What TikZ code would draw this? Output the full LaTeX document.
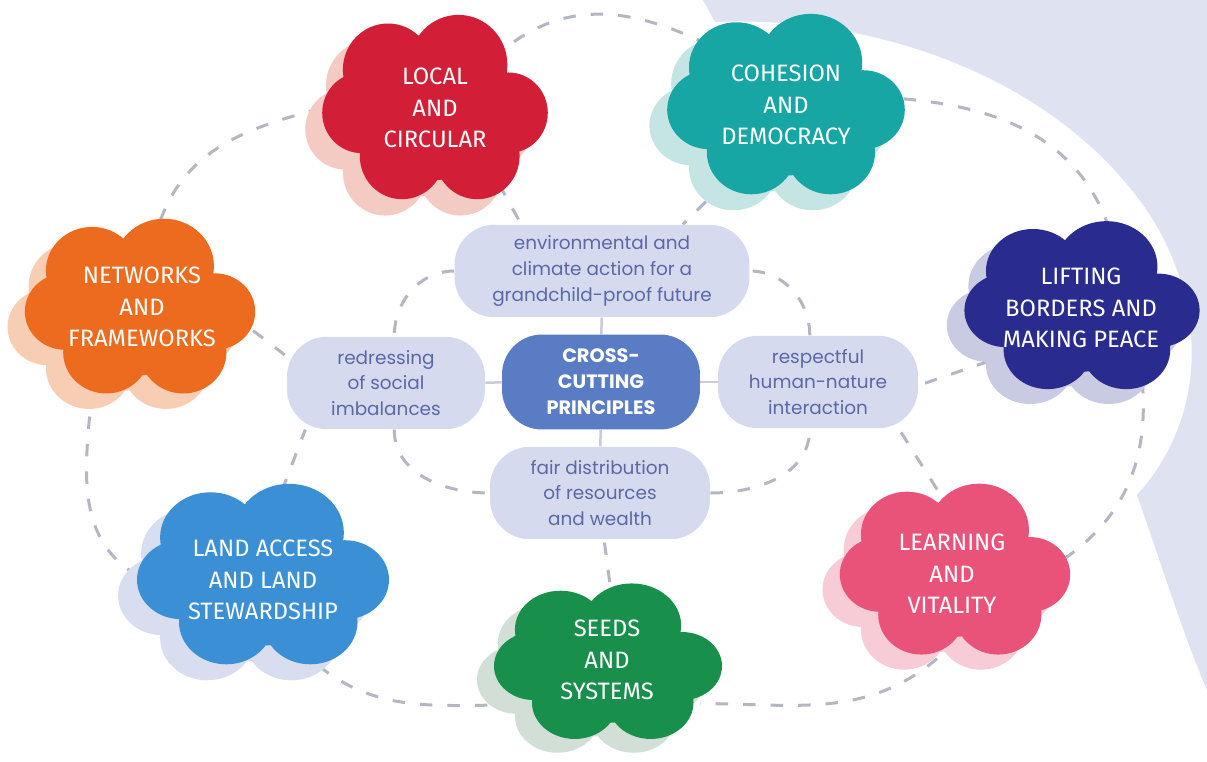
\documentclass[tikz,border=0pt]{standalone}
\usepackage{fontspec}
\usepackage{tikz}
\usetikzlibrary{shapes.geometric}
\newfontfamily\cloudfont{Fira Sans}
\newfontfamily\pillfont{Poppins}

\definecolor{skyback}{HTML}{DFE3F1}
\definecolor{linkgrey}{HTML}{B3B7C2}
\definecolor{stemgrey}{HTML}{C9CCD6}
\definecolor{pillfill}{HTML}{D5DAEE}
\definecolor{pilltext}{HTML}{5A68A8}
\definecolor{corefill}{HTML}{5A7CC4}
\definecolor{localred}{HTML}{D21E36}
\definecolor{localshade}{HTML}{F3CBC2}
\definecolor{cohteal}{HTML}{17A6A4}
\definecolor{cohshade}{HTML}{C4E5E3}
\definecolor{netorange}{HTML}{EC6B1E}
\definecolor{netshade}{HTML}{F7CDB4}
\definecolor{liftnavy}{HTML}{292C8E}
\definecolor{liftshade}{HTML}{C8CBE1}
\definecolor{landblue}{HTML}{3A8FD5}
\definecolor{landshade}{HTML}{D8DDF0}
\definecolor{seedgreen}{HTML}{188F4A}
\definecolor{seedshade}{HTML}{D2DFD6}
\definecolor{learnpink}{HTML}{E9537A}
\definecolor{learnshade}{HTML}{F7CCD6}

\pgfdeclarelayer{back}
\pgfdeclarelayer{links}
\pgfsetlayers{back,links,main}

% one puffy blob, drawn around the current origin
\def\cloudblob#1{\fill[#1] (0,5) ellipse [x radius=98, y radius=66] (0,5) circle (70) (-50,-40) circle (48) (25,-45) circle (52) (78,5) circle (42) (45,50) circle (45) (-35,50) circle (45) (-78,5) circle (42);}
% cloud with its pale copy behind it: centre, scaling, colour, shadow colour
\def\cloud(#1)[#2]#3#4{%
	\begin{scope}[shift={(#1)},#2]
		\begin{scope}[shift={(-18,17)}]\cloudblob{#4}\end{scope}
		\cloudblob{#3}
	\end{scope}}

\begin{document}
\begin{tikzpicture}[x=0.02cm, y=-0.02cm,
	cloudtext/.style={ellipse, inner sep=0pt, align=center, text=white, font=\cloudfont\fontsize{13.5}{18}\selectfont},
	principle/.style={rectangle, rounded corners=0.8cm, fill=pillfill, text=pilltext, align=center, inner sep=2pt, minimum height=1.85cm, font=\pillfont\fontsize{10.5}{14.7}\selectfont},
	core/.style={principle, fill=corefill, text=white, font=\pillfont\bfseries\fontsize{11}{14.7}\selectfont},
	dashlink/.style={draw=linkgrey, line width=0.06cm, dash pattern=on 0.25cm off 0.3cm},
	solidlink/.style={draw=stemgrey, line width=0.05cm}]
			%%%%% START %%%%%
			
			\useasboundingbox (0,0) rectangle (1207,761);
			\begin{pgfonlayer}{back}
				\fill[white] (0,0) rectangle (1207,761);
				\fill[skyback] (703,0) -- (715,22) .. controls (880,15) and (1060,80) .. (1150,215) .. controls (1210,310) and (1205,420) .. (1137,495) .. controls (1160,560) and (1185,640) .. (1207,690) -- (1207,0) -- cycle;
			\end{pgfonlayer}
			
			\cloud(435,108)[xscale=0.94, yscale=0.96]{localred}{localshade}
			\cloud(786,105)[xscale=0.99, yscale=0.94]{cohteal}{cohshade}
			\cloud(140,307)[xscale=0.96, yscale=0.91]{netorange}{netshade}
			\cloud(1082,306)[xscale=0.98, yscale=0.875]{liftnavy}{liftshade}
			\cloud(263,575)[xscale=1.05, yscale=0.94]{landblue}{landshade}
			\cloud(608,662)[xscale=0.95, yscale=0.81]{seedgreen}{seedshade}
			\cloud(955,570)[xscale=0.96, yscale=0.89]{learnpink}{learnshade}
			
			\node[cloudtext, minimum width=4.5cm, minimum height=3.7cm] (local) at (435,108) {LOCAL\\AND\\CIRCULAR};
			\node[cloudtext, minimum width=4.7cm, minimum height=3.6cm] (cohesion) at (786,105) {COHESION\\AND\\DEMOCRACY};
			\node[cloudtext, minimum width=4.6cm, minimum height=3.5cm] (networks) at (142,307) {NETWORKS\\AND\\FRAMEWORKS};
			\node[cloudtext, minimum width=4.7cm, minimum height=3.4cm] (lifting) at (1081,308) {LIFTING\\BORDERS AND\\MAKING PEACE};
			\node[cloudtext, minimum width=5.0cm, minimum height=3.6cm] (land) at (263,580) {LAND ACCESS\\AND LAND\\STEWARDSHIP};
			\node[cloudtext, minimum width=4.5cm, minimum height=3.1cm] (seeds) at (607,660) {SEEDS\\AND\\SYSTEMS};
			\node[cloudtext, minimum width=4.6cm, minimum height=3.4cm] (learning) at (952,574) {LEARNING\\AND\\VITALITY};
			
			\node[principle, minimum width=5.9cm] (climate) at (602,271) {environmental and\\climate action for a\\grandchild-proof future};
			\node[core, minimum width=3.96cm, minimum height=1.9cm] (core) at (601,382) {CROSS-\\CUTTING\\PRINCIPLES};
			\node[principle, minimum width=3.96cm] (redress) at (386,383) {redressing\\of social\\imbalances};
			\node[principle, minimum width=4cm] (respect) at (818,382) {respectful\\human-nature\\interaction};
			\node[principle, minimum width=4.4cm] (fair) at (600,493) {fair distribution\\of resources\\and wealth};
			
			\begin{pgfonlayer}{links}
				% outer ring
				\draw[dashlink] (local.40) to[out=35, in=155] (cohesion.143);
				\draw[dashlink] (cohesion.3) to[out=-5, in=110] (lifting.72);
				\draw[dashlink] (lifting.-50) to[out=-85, in=35] (learning.8);
				\draw[dashlink] (learning.-100) to[out=-140, in=0] (seeds.-25);
				\draw[dashlink] (seeds.-154) to[out=180, in=-40] (land.-58);
				\draw[dashlink] (land.178) to[out=150, in=-95] (networks.-122);
				\draw[dashlink] (networks.78) to[out=70, in=-165] (local.180);
				% spokes
				\draw[dashlink] (local.-50) -- (climate.150);
				\draw[dashlink] (cohesion.-128) -- (climate.30);
				\draw[dashlink] (networks.-12) -- (redress.165);
				\draw[dashlink] (lifting.-150) -- (respect.-2);
				\draw[dashlink] (land.78) -- (redress.-150);
				\draw[dashlink] (learning.100) -- (respect.-30);
				\draw[dashlink] (seeds.88) -- (fair.-85);
				% inner ring
				\draw[dashlink] (climate.west) to[out=180, in=90] (redress.80);
				\draw[dashlink] (redress.-80) to[out=-90, in=180] (fair.west);
				\draw[dashlink] (fair.east) to[out=0, in=-90] (respect.-100);
				\draw[dashlink] (respect.100) to[out=90, in=0] (climate.east);
				% stems
				\draw[solidlink] (core) -- (climate);
				\draw[solidlink] (core) -- (fair);
				\draw[solidlink] (core) -- (redress);
				\draw[solidlink] (core) -- (respect);
			\end{pgfonlayer}
			
			%%%%% END %%%%%
\end{tikzpicture}
\end{document}
